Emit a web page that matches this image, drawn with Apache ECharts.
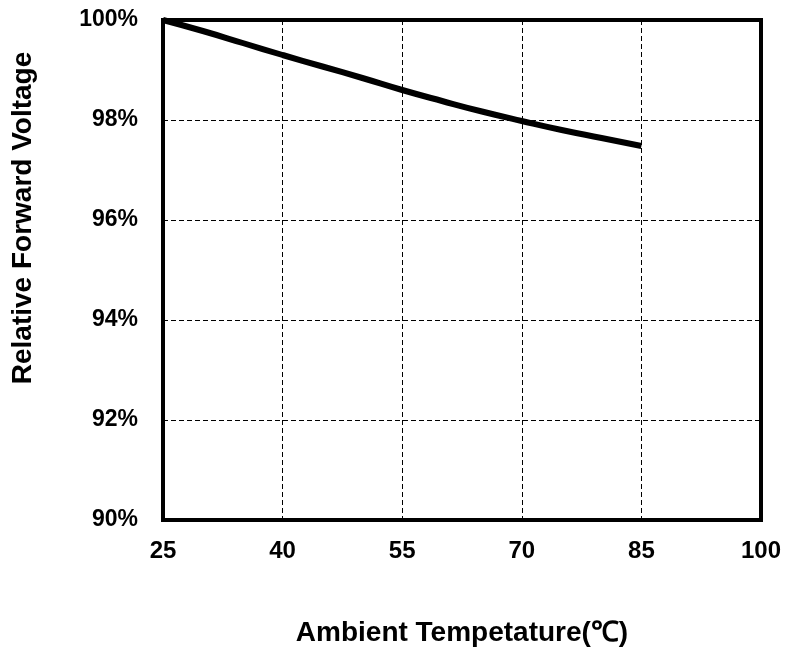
<!DOCTYPE html>
<html>
<head>
<meta charset="utf-8">
<script src="https://cdn.jsdelivr.net/npm/echarts@6/dist/echarts.min.js"></script>
<style>html,body{margin:0;padding:0;background:#fff}#c{width:786px;height:654px}</style>
</head>
<body>
<div id="c"></div>
<script>
const temperatures = [25, 30, 35, 40, 45, 50, 55, 60, 65, 70, 75, 80, 85];
const relativeVoltage = [100.0, 99.78, 99.54, 99.3, 99.07, 98.84, 98.6, 98.38, 98.17, 97.98, 97.8, 97.64, 97.48];
const xTicks = [25, 40, 55, 70, 85, 100];
const yTicks = [90, 92, 94, 96, 98, 100];

const chart = echarts.init(document.getElementById('c'));
const gridLine = {show: true, lineStyle: {color: '#000', width: 1, type: [5, 3]}};
chart.setOption({
  animation: false,
  grid: {left: 163, right: 25, top: 20, bottom: 134, show: true, borderColor: '#000', borderWidth: 4, backgroundColor: '#fff'},
  xAxis: {
    type: 'value', min: xTicks[0], max: xTicks[xTicks.length - 1], interval: 15,
    axisLine: {show: false}, axisTick: {show: false},
    splitLine: gridLine,
    axisLabel: {color: '#000', fontFamily: 'Liberation Sans, Arial', fontWeight: 'bold', fontSize: 24, margin: 19},
    name: 'Ambient Tempetature(℃)', nameLocation: 'middle', nameGap: 99,
    nameTextStyle: {color: '#000', fontFamily: 'Liberation Sans, Arial', fontWeight: 'bold', fontSize: 28}
  },
  yAxis: {
    type: 'value', min: yTicks[0], max: yTicks[yTicks.length - 1], interval: 2,
    axisLine: {show: false}, axisTick: {show: false},
    splitLine: gridLine,
    axisLabel: {color: '#000', fontFamily: 'Liberation Sans, Arial', fontWeight: 'bold', fontSize: 23, margin: 25, formatter: v => v + '%'},
    name: 'Relative Forward Voltage', nameLocation: 'middle', nameGap: 126,
    nameTextStyle: {color: '#000', fontFamily: 'Liberation Sans, Arial', fontWeight: 'bold', fontSize: 28, padding: [0, 0, 0, 104]}
  },
  series: [{
    type: 'line', smooth: true, showSymbol: false,
    lineStyle: {color: '#000', width: 6},
    data: temperatures.map((t, i) => [t, relativeVoltage[i]])
  }]
});
</script>
</body>
</html>
